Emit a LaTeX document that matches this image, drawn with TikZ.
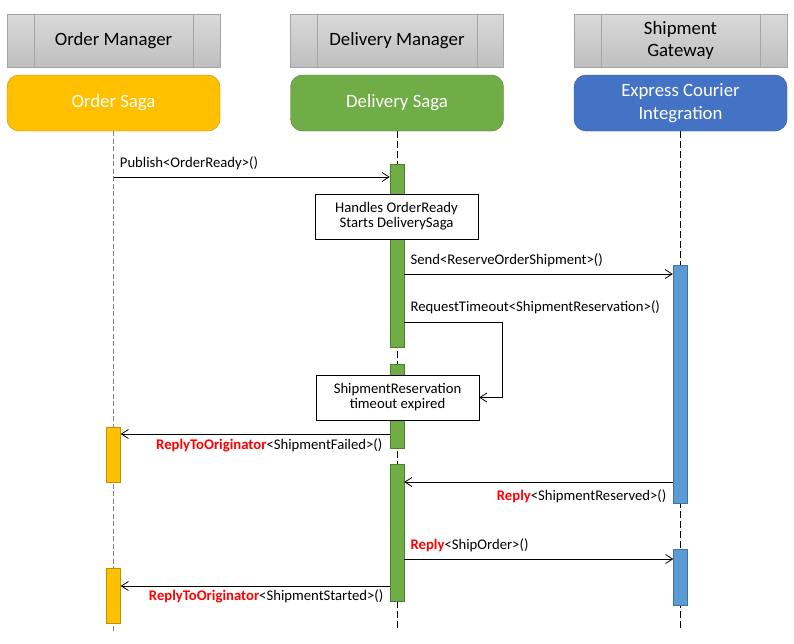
\documentclass[tikz,border=0pt]{standalone}
\usepackage{fontspec}
\setmainfont{Carlito}
\usepackage{tikz}
\usetikzlibrary{arrows.meta}

\definecolor{hdrtop}{HTML}{D9D9D9}
\definecolor{hdrbot}{HTML}{BFBFBF}
\definecolor{hdrline}{HTML}{A5A5A5}
\definecolor{ordfill}{HTML}{FFC000}
\definecolor{orddraw}{HTML}{BF9000}
\definecolor{delfill}{HTML}{70AD47}
\definecolor{deldraw}{HTML}{507E32}
\definecolor{expfill}{HTML}{4472C4}
\definecolor{expdraw}{HTML}{2F528F}
\definecolor{barblue}{HTML}{5B9BD5}
\definecolor{barbluedraw}{HTML}{41719C}
\definecolor{kwred}{HTML}{FF0000}

\newcommand{\kw}[1]{\textcolor{kwred}{\bfseries #1}}

\begin{document}
\begin{tikzpicture}[x=1pt,y=-1pt,
    hdr/.style={draw=hdrline, top color=hdrtop, bottom color=hdrbot, minimum width=213pt,
        minimum height=53pt, inner sep=0pt, align=center, font=\fontsize{18.8}{22}\selectfont},
    saga/.style={rounded corners=12pt, minimum width=213pt, minimum height=56pt, inner sep=0pt,
        align=center, text=white, font=\fontsize{18.8}{23}\selectfont},
    life/.style={dash pattern=on 7pt off 3pt, line width=0.8pt},
    act/.style={minimum width=14pt, inner sep=0pt},
    note/.style={draw, fill=white, minimum width=163pt, minimum height=45pt, inner sep=0pt,
        align=center, font=\fontsize{14.7}{15}\selectfont},
    msg/.style={-{Straight Barb[length=7pt,width=9pt]}, line width=0.8pt},
    lbl/.style={inner sep=0pt, font=\fontsize{14.7}{16}\selectfont}]
    \useasboundingbox (0,0) rectangle (794,643);

    \node[hdr] (om) at (113.5,40.5) {Order Manager};
    \node[hdr] (dm) at (397,40.5) {Delivery Manager};
    \node[hdr] (sg) at (680.5,40.5) {Shipment\\Gateway};
    \foreach \h in {om,dm,sg} {
        \draw[hdrline] ([xshift=27pt]\h.north west) -- ([xshift=27pt]\h.south west);
        \draw[hdrline] ([xshift=-27pt]\h.north east) -- ([xshift=-27pt]\h.south east);
    }

    \node[saga, draw=orddraw, fill=ordfill] (osaga) at (113.5,103) {\raisebox{-1pt}{Order Saga}};
    \node[saga, draw=deldraw, fill=delfill] (dsaga) at (397,103) {\raisebox{-1pt}{Delivery Saga}};
    \node[saga, draw=expdraw, fill=expfill] (esaga) at (680.5,103) {Express Courier\\Integration};

    \coordinate (oend) at (113.5,631);
    \coordinate (dend) at (397,631);
    \coordinate (eend) at (680.5,631);
    \draw[life, gray, dash pattern=on 5pt off 2.5pt] (osaga.south) -- (oend);
    \draw[life] (dsaga.south) -- (dend);
    \draw[life] (esaga.south) -- (eend);

    \node[act, draw=deldraw, fill=delfill, minimum height=183pt] (db1) at (397,255.5) {};
    \node[act, draw=deldraw, fill=delfill, minimum height=84pt] (db2) at (397,406) {};
    \node[act, draw=deldraw, fill=delfill, minimum height=137pt] (db3) at (397,532.5) {};
    \node[act, draw=barbluedraw, fill=barblue, minimum height=238pt] (bb1) at (680,384) {};
    \node[act, draw=barbluedraw, fill=barblue, minimum height=56pt] (bb2) at (680.5,577) {};
    \node[act, draw=orddraw, fill=ordfill, minimum height=55pt] (ob1) at (113.5,454.5) {};
    \node[act, draw=orddraw, fill=ordfill, minimum height=55pt] (ob2) at (113.5,595.5) {};

    \node[note] (note1) at (396.5,216.5) {Handles OrderReady\\Starts DeliverySaga};
    \node[note] (note2) at (397.5,397.5) {ShipmentReservation\\timeout expired};

    \draw[msg] (osaga.south |- 0,177) -- node[lbl, pos=0, anchor=west, shift={(6pt,14pt)}]
        {Publish<OrderReady>()} (db1.west |- 0,177);
    \draw[msg] (db1.east |- 0,274) -- node[lbl, pos=0, anchor=west, shift={(6pt,14pt)}]
        {Send<ReserveOrderShipment>()} (bb1.west |- 0,274);
    \coordinate (tmo) at (502,322);
    \draw[msg] (db1.east |- tmo) -- node[lbl, pos=0, anchor=west, shift={(6pt,15pt)}]
        {RequestTimeout<ShipmentReservation>()} (tmo) -- (tmo |- note2.east) -- (note2.east);
    \draw[msg] (db2.west |- 0,434) -- node[lbl, pos=0, anchor=east, shift={(-7pt,-11pt)}]
        {\kw{ReplyToOriginator}<ShipmentFailed>()} (ob1.east |- 0,434);
    \draw[msg] (bb1.west |- 0,482) -- node[lbl, pos=0, anchor=east, shift={(-6pt,-14pt)}]
        {\kw{Reply}<ShipmentReserved>()} (db3.east |- 0,482);
    \draw[msg] (db3.east |- 0,559) -- node[lbl, pos=0, anchor=west, shift={(6pt,14pt)}]
        {\kw{Reply}<ShipOrder>()} (bb2.west |- 0,559);
    \draw[msg] (db3.west |- 0,586) -- node[lbl, pos=0, anchor=east, shift={(-6pt,-10pt)}]
        {\kw{ReplyToOriginator}<ShipmentStarted>()} (ob2.east |- 0,586);
\end{tikzpicture}
\end{document}
